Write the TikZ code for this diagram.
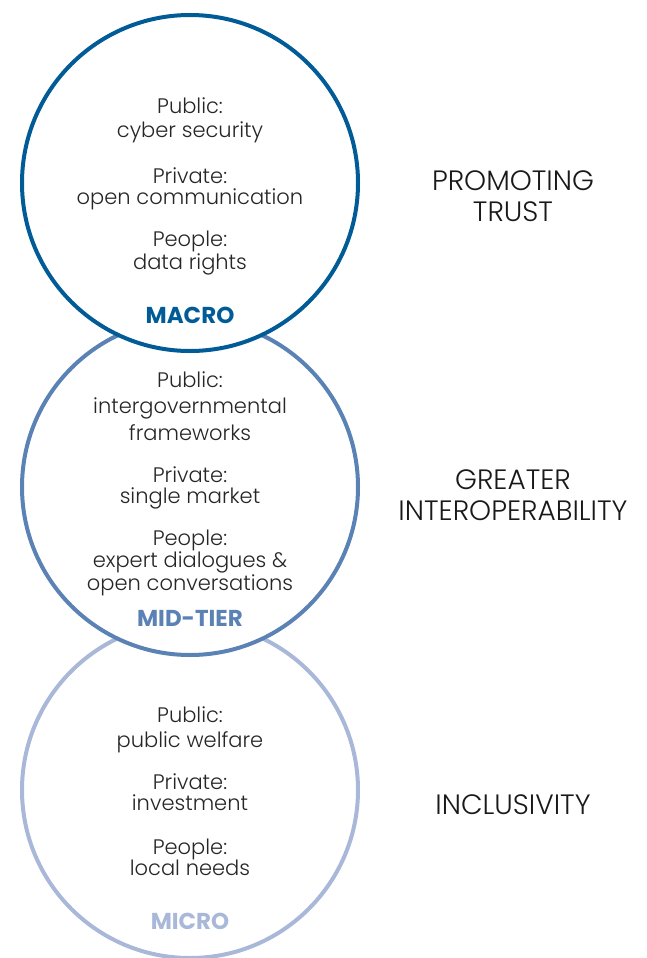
\documentclass[tikz,border=0pt]{standalone}
\usepackage{fontspec}
\setmainfont{Poppins}[UprightFont=*-Light, BoldFont=*-Bold]
\usetikzlibrary{positioning}
\definecolor{macroblue}{HTML}{005B96}
\definecolor{midblue}{HTML}{5A82B4}
\definecolor{microblue}{HTML}{A9B8D8}
\tikzset{ring/.style = {circle, draw, fill = white, line width = 4pt, minimum size = 336pt, inner sep = 0}}
\tikzset{txt/.style = {align = center, anchor = base, font = \fontsize{21}{21}\selectfont, text = black!85}}
\tikzset{tier/.style = {anchor = base, font = \fontsize{23}{24}\selectfont\bfseries}}
\tikzset{goal/.style = {align = center, anchor = base, font = \fontsize{28}{31}\selectfont, text = black!90}}

\begin{document}
\begin{tikzpicture}[x = 1pt, y = -1pt]
      \useasboundingbox (0, 0) rectangle (646, 958);
      \node [ring, draw = microblue] (micro) at (190, 790) {};
      \node [ring, draw = midblue] (mid) at (190, 487) {};
      \node [ring, draw = macroblue] (macro) at (190, 183) {};
      % macro
      \node [txt] (macpub) at (190, 137) {Public:\\[3pt]cyber security};
      \node [txt] (macpri) at (190, 204) {Private:\\open communication};
      \node [txt] (macpeo) at (190, 269) {People:\\data rights};
      \node [tier, text = macroblue] (maclab) at (190, 323) {MACRO};
      % mid-tier
      \node [txt] (midpub) at (190, 440) {Public:\\[5pt]intergovernmental\\[4pt]frameworks};
      \node [txt] (midpri) at (190, 503) {Private:\\single market};
      \node [txt] (midpeo) at (190, 590) {People:\\expert dialogues \&\\open conversations};
      \node [tier, text = midblue] (midlab) at (190, 626) {MID-TIER};
      % micro
      \node [txt] (micpub) at (190, 747) {Public:\\[4pt]public welfare};
      \node [txt] (micpri) at (190, 810) {Private:\\investment};
      \node [txt] (micpeo) at (190, 875) {People:\\local needs};
      \node [tier, text = microblue] (miclab) at (190, 929) {MICRO};
      % goals
      \node [goal] (trust) at (513, 221) {PROMOTING\\TRUST};
      \node [goal] (inter) at (513, 520) {GREATER\\INTEROPERABILITY};
      \node [goal] (incl) at (513, 814) {INCLUSIVITY};
    \end{tikzpicture}
\end{document}
